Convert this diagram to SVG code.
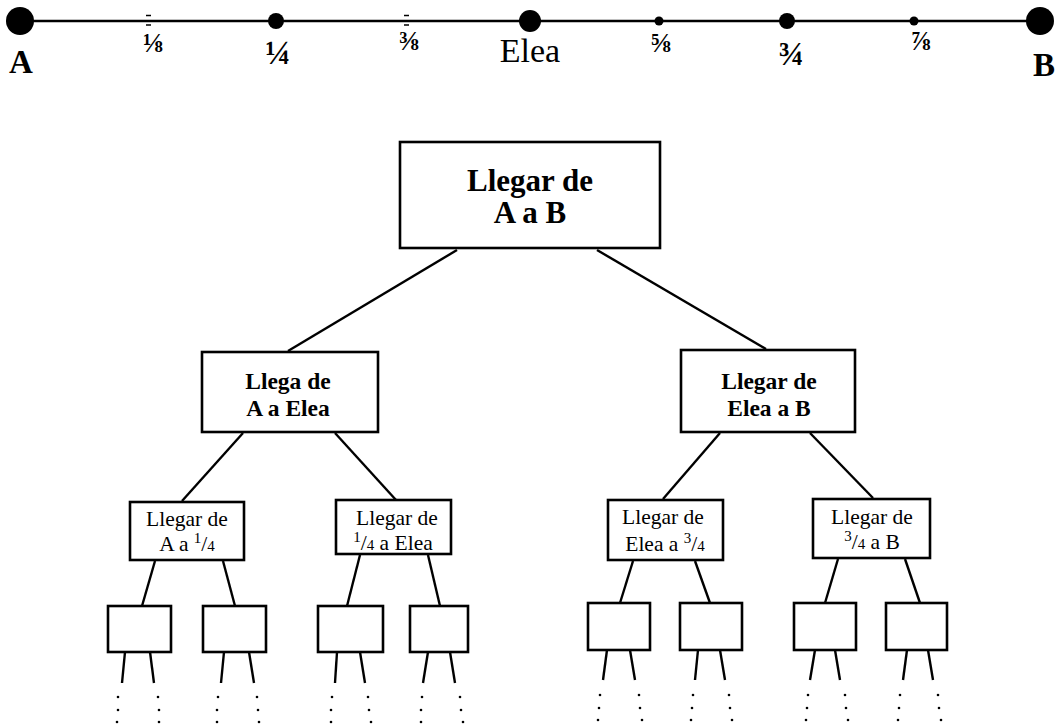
<svg xmlns="http://www.w3.org/2000/svg" width="1060" height="724" viewBox="0 0 1060 724">
<style>
.box{fill:#fff;stroke:#000;stroke-width:2.6}
.ln{stroke:#000;stroke-width:2.4;fill:none}
.tb{font-family:"Liberation Serif","DejaVu Serif",serif;font-weight:bold;text-anchor:middle;fill:#000}
.tr{font-family:"Liberation Serif","DejaVu Serif",serif;text-anchor:middle;fill:#000}
.dot{fill:#000}
</style>
<rect width="1060" height="724" fill="#fff"/>
<g id="numberline">
<line x1="20" y1="21" x2="1040" y2="21" stroke="#000" stroke-width="2.6"/>
<circle class="dot" cx="20" cy="21" r="14"/>
<circle class="dot" cx="276" cy="21" r="8"/>
<circle class="dot" cx="530" cy="21" r="11"/>
<circle class="dot" cx="659" cy="21" r="4.5"/>
<circle class="dot" cx="787" cy="21" r="8"/>
<circle class="dot" cx="914" cy="21" r="4.5"/>
<circle class="dot" cx="1040" cy="21" r="14"/>
<path d="M146 15.5h5M146 25h5M404 15.5h5M404 25h5" stroke="#000" stroke-width="1.5"/>
<text class="tb" x="21" y="73" font-size="33">A</text>
<text class="tb" x="1044" y="76" font-size="33">B</text>
<text class="tr" x="530" y="62" font-size="34">Elea</text>
<text class="tb" x="153" y="52" font-size="27">⅛</text>
<text class="tb" x="278" y="64" font-size="34">¼</text>
<text class="tb" x="409" y="50" font-size="27">⅜</text>
<text class="tb" x="661" y="52" font-size="27">⅝</text>
<text class="tb" x="791" y="65" font-size="34">¾</text>
<text class="tb" x="921" y="50" font-size="27">⅞</text>
</g>
<g id="connectors">
<line class="ln" x1="457" y1="250" x2="288" y2="351"/>
<line class="ln" x1="597" y1="250" x2="766" y2="349"/>
<line class="ln" x1="243" y1="433" x2="182" y2="501"/>
<line class="ln" x1="335" y1="433" x2="396" y2="500"/>
<line class="ln" x1="720" y1="433" x2="663" y2="499"/>
<line class="ln" x1="810" y1="433" x2="873" y2="498"/>
<line class="ln" x1="155" y1="561" x2="142" y2="606"/>
<line class="ln" x1="223" y1="561" x2="235" y2="606"/>
<line class="ln" x1="360" y1="555" x2="347" y2="606"/>
<line class="ln" x1="428" y1="555" x2="440" y2="606"/>
<line class="ln" x1="633" y1="561" x2="620" y2="603"/>
<line class="ln" x1="695" y1="561" x2="710" y2="603"/>
<line class="ln" x1="838" y1="559" x2="825" y2="603"/>
<line class="ln" x1="905" y1="559" x2="920" y2="603"/>
<line class="ln" x1="125" y1="652" x2="122" y2="683"/>
<line class="ln" x1="150" y1="652" x2="154" y2="683"/>
<line class="ln" x1="224" y1="652" x2="221" y2="683"/>
<line class="ln" x1="249" y1="652" x2="254" y2="683"/>
<line class="ln" x1="337" y1="652" x2="335" y2="683"/>
<line class="ln" x1="360" y1="652" x2="365" y2="683"/>
<line class="ln" x1="428" y1="652" x2="423" y2="683"/>
<line class="ln" x1="450" y1="652" x2="455" y2="683"/>
<line class="ln" x1="607" y1="650" x2="603" y2="680"/>
<line class="ln" x1="630" y1="650" x2="635" y2="680"/>
<line class="ln" x1="698" y1="650" x2="695" y2="680"/>
<line class="ln" x1="720" y1="650" x2="725" y2="680"/>
<line class="ln" x1="815" y1="650" x2="810" y2="680"/>
<line class="ln" x1="835" y1="650" x2="840" y2="680"/>
<line class="ln" x1="907" y1="650" x2="903" y2="680"/>
<line class="ln" x1="928" y1="650" x2="933" y2="680"/>
<g class="dot">
<circle cx="118" cy="697" r="1.3"/><circle cx="118" cy="710" r="1.3"/><circle cx="117" cy="722" r="1.3"/>
<circle cx="158" cy="697" r="1.3"/><circle cx="159" cy="710" r="1.3"/><circle cx="159" cy="722" r="1.3"/>
<circle cx="218" cy="697" r="1.3"/><circle cx="217" cy="710" r="1.3"/><circle cx="217" cy="722" r="1.3"/>
<circle cx="257" cy="697" r="1.3"/><circle cx="258" cy="710" r="1.3"/><circle cx="259" cy="722" r="1.3"/>
<circle cx="332" cy="697" r="1.3"/><circle cx="331" cy="710" r="1.3"/><circle cx="331" cy="722" r="1.3"/>
<circle cx="368" cy="697" r="1.3"/><circle cx="369" cy="710" r="1.3"/><circle cx="371" cy="722" r="1.3"/>
<circle cx="422" cy="697" r="1.3"/><circle cx="421" cy="710" r="1.3"/><circle cx="421" cy="722" r="1.3"/>
<circle cx="460" cy="697" r="1.3"/><circle cx="461" cy="710" r="1.3"/><circle cx="463" cy="722" r="1.3"/>
<circle cx="600" cy="695" r="1.3"/><circle cx="599" cy="708" r="1.3"/><circle cx="598" cy="720" r="1.3"/>
<circle cx="639" cy="695" r="1.3"/><circle cx="640" cy="708" r="1.3"/><circle cx="642" cy="720" r="1.3"/>
<circle cx="693" cy="695" r="1.3"/><circle cx="692" cy="708" r="1.3"/><circle cx="691" cy="720" r="1.3"/>
<circle cx="729" cy="695" r="1.3"/><circle cx="730" cy="708" r="1.3"/><circle cx="732" cy="720" r="1.3"/>
<circle cx="808" cy="695" r="1.3"/><circle cx="807" cy="708" r="1.3"/><circle cx="806" cy="720" r="1.3"/>
<circle cx="845" cy="695" r="1.3"/><circle cx="846" cy="708" r="1.3"/><circle cx="848" cy="720" r="1.3"/>
<circle cx="900" cy="695" r="1.3"/><circle cx="899" cy="708" r="1.3"/><circle cx="898" cy="720" r="1.3"/>
<circle cx="938" cy="695" r="1.3"/><circle cx="939" cy="708" r="1.3"/><circle cx="941" cy="720" r="1.3"/>
</g>
</g>
<g id="root">
<rect class="box" x="400" y="142" width="260" height="106"/>
<text class="tb" x="530" y="191" font-size="31">Llegar de</text>
<text class="tb" x="530" y="223" font-size="31">A a B</text>
</g>
<g id="n-A-Elea">
<rect class="box" x="202" y="352" width="176" height="80"/>
<text class="tb" x="288" y="389" font-size="23.5">Llega de</text>
<text class="tb" x="288" y="416" font-size="23.5">A a Elea</text>
</g>
<g id="n-Elea-B">
<rect class="box" x="681" y="350" width="174" height="82"/>
<text class="tb" x="769" y="389" font-size="23.5">Llegar de</text>
<text class="tb" x="769" y="416" font-size="23.5">Elea a B</text>
</g>
<g id="n-A-q1">
<rect class="box" x="130" y="502" width="114" height="58"/>
<text class="tr" x="187" y="526" font-size="21.5">Llegar de</text>
<text class="tr" x="187" y="551" font-size="21.5">A a <tspan font-size="15" dy="-8">1</tspan><tspan dy="8">/</tspan><tspan font-size="15">4</tspan></text>
</g>
<g id="n-q1-Elea">
<rect class="box" x="336" y="500" width="115" height="54"/>
<text class="tr" x="397" y="525" font-size="21.5">Llegar de</text>
<text class="tr" x="393" y="550" font-size="21.5"><tspan font-size="15" dy="-8">1</tspan><tspan dy="8">/</tspan><tspan font-size="15">4</tspan> a Elea</text>
</g>
<g id="n-Elea-q3">
<rect class="box" x="608" y="500" width="115" height="60"/>
<text class="tr" x="663" y="524" font-size="21.5">Llegar de</text>
<text class="tr" x="665" y="551" font-size="21.5">Elea a <tspan font-size="15" dy="-8">3</tspan><tspan dy="8">/</tspan><tspan font-size="15">4</tspan></text>
</g>
<g id="n-q3-B">
<rect class="box" x="813" y="499" width="117" height="59"/>
<text class="tr" x="872" y="524" font-size="21.5">Llegar de</text>
<text class="tr" x="872" y="549" font-size="21.5"><tspan font-size="15" dy="-8">3</tspan><tspan dy="8">/</tspan><tspan font-size="15">4</tspan> a B</text>
</g>
<g id="leaf1"><rect class="box" x="108" y="606" width="63" height="46"/></g>
<g id="leaf2"><rect class="box" x="203" y="606" width="63" height="46"/></g>
<g id="leaf3"><rect class="box" x="318" y="606" width="65" height="46"/></g>
<g id="leaf4"><rect class="box" x="410" y="606" width="58" height="46"/></g>
<g id="leaf5"><rect class="box" x="588" y="603" width="62" height="47"/></g>
<g id="leaf6"><rect class="box" x="680" y="603" width="62" height="47"/></g>
<g id="leaf7"><rect class="box" x="794" y="603" width="62" height="47"/></g>
<g id="leaf8"><rect class="box" x="886" y="603" width="61" height="47"/></g>
</svg>
